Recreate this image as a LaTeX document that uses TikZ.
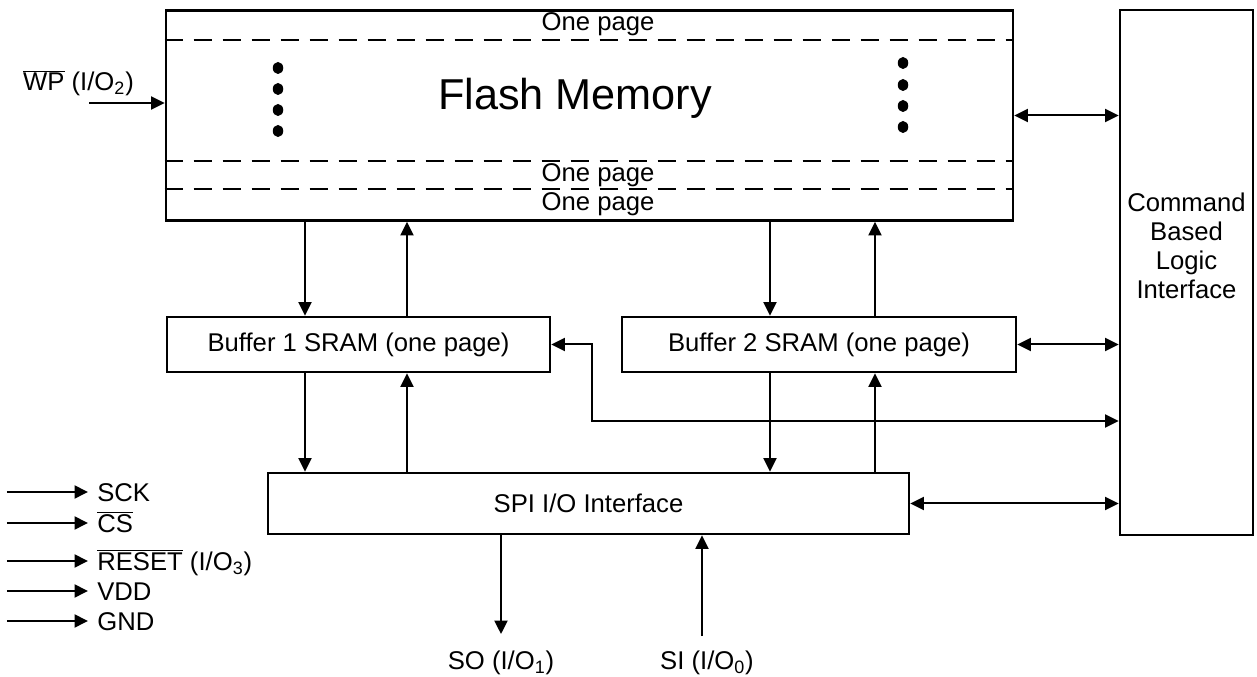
\documentclass[tikz,border=0pt]{standalone}
\usepackage{fontspec}
\setmainfont{Liberation Sans}
\usetikzlibrary{arrows.meta}

\begin{document}
\begin{tikzpicture}[x=0.2mm,y=-0.2mm,
  font=\fontsize{14.6}{16.5}\selectfont,
  box/.style={draw,line width=0.55mm,inner sep=0pt},
  arr/.style={line width=0.4mm,-{Triangle[length=2.7mm,width=2.6mm]}},
  biarr/.style={line width=0.4mm,{Triangle[length=2.7mm,width=2.6mm]}-{Triangle[length=2.7mm,width=2.6mm]}},
  pagesep/.style={line width=0.4mm,dash pattern=on 3.6mm off 2.2mm},
  sig/.style={anchor=west,inner sep=1.8mm,text height=3.7mm,text depth=0pt}]
\useasboundingbox (0,0) rectangle (1257,677);

\node[box,minimum width=169.4mm,minimum height=42mm] (flash) at (589.5,115.5) {};
\node[box,minimum width=26.6mm,minimum height=105mm] (cbli) at (1186.5,272.5) {};
\node[box,minimum width=76.6mm,minimum height=11mm] (buf1) at (358.5,344.5) {Buffer 1 SRAM (one page)};
\node[box,minimum width=78.8mm,minimum height=11mm] (buf2) at (819,344.5) {Buffer 2 SRAM (one page)};
\node[box,minimum width=128.2mm,minimum height=12.2mm] (spi) at (588.5,503.5) {SPI I/O Interface};

\node[font=\fontsize{24.6}{28}\selectfont] (fmem) at (575,98) {Flash Memory};
\node[align=center] (cblitxt) at (1186.5,246) {Command\\Based\\Logic\\Interface};

% pages of the flash array
\draw[pagesep] (flash.west |- 0,40) -- (flash.east |- 0,40);
\draw[pagesep] (flash.west |- 0,161) -- (flash.east |- 0,161);
\draw[pagesep] (flash.west |- 0,189) -- (flash.east |- 0,189);
\node (page1) at (598,24) {One page};
\node (page2) at (598,175) {One page};
\node (page3) at (598,204) {One page};
\foreach \y in {68,89,110,131} \fill (278,\y) ellipse [x radius=1.05mm,y radius=1.2mm];
\foreach \y in {63,85,106,127} \fill (903,\y) ellipse [x radius=1.05mm,y radius=1.2mm];

% buffers
\coordinate (c1) at (305,0);
\coordinate (c2) at (407,0);
\coordinate (c3) at (770,0);
\coordinate (c4) at (875,0);
\draw[arr] (flash.south -| c1) -- (buf1.north -| c1);
\draw[arr] (buf1.north -| c2) -- (flash.south -| c2);
\draw[arr] (flash.south -| c3) -- (buf2.north -| c3);
\draw[arr] (buf2.north -| c4) -- (flash.south -| c4);
\draw[arr] (buf1.south -| c1) -- (spi.north -| c1);
\draw[arr] (spi.north -| c2) -- (buf1.south -| c2);
\draw[arr] (buf2.south -| c3) -- (spi.north -| c3);
\draw[arr] (spi.north -| c4) -- (buf2.south -| c4);

% command logic
\coordinate (bend) at (592,421);
\draw[biarr] (flash.east) -- (flash.east -| cbli.west);
\draw[biarr] (buf2.east) -- (buf2.east -| cbli.west);
\draw[biarr] (spi.east) -- (spi.east -| cbli.west);
\draw[biarr] (buf1.east) -| (bend) -- (bend -| cbli.west);

% pins
\node[anchor=base west] (wp) at (17,91) {$\overline{\mbox{WP}}$ (I/O\textsubscript{2})};
\coordinate (wpin) at (89,103);
\draw[arr] (wpin) -- (wpin -| flash.west);

\node[sig] (sck) at (88,492) {SCK};
\node[sig] (cs) at (88,523) {$\overline{\mbox{CS}}$};
\node[sig] (reset) at (88,561) {$\overline{\mbox{RESET}}$ (I/O\textsubscript{3})};
\node[sig] (vdd) at (88,591) {VDD};
\node[sig] (gnd) at (88,621) {GND};
\foreach \n in {sck,cs,reset,vdd,gnd} \draw[arr] ([xshift=-16.2mm]\n.west) -- (\n.west);

\node[anchor=base,inner sep=0pt] (so) at (501,670) {SO (I/O\textsubscript{1})};
\node[anchor=base,inner sep=0pt] (si) at (707,670) {SI (I/O\textsubscript{0})};
\draw[arr,shorten >=3.4mm] (spi.south -| so.north) -- (so.north);
\draw[arr,shorten <=3mm] ([xshift=-1mm]si.north) -- ([xshift=-1mm]si.north |- spi.south);
\end{tikzpicture}
\end{document}
